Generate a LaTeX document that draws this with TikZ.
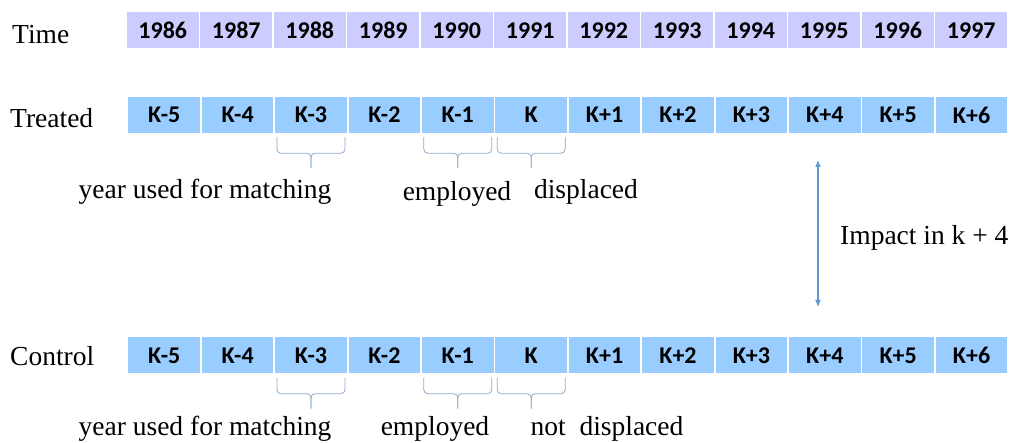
\documentclass[tikz,border=0pt]{standalone}
\usepackage{fontspec}
\setmainfont{Liberation Serif}
\newfontfamily\seriffont{Liberation Serif}
\newfontfamily\cellfont{Carlito}
\usetikzlibrary{calc,arrows.meta}
\definecolor{timefill}{HTML}{CCCCFF}
\definecolor{kfill}{HTML}{99CCFF}
\definecolor{bracecol}{HTML}{8FAACC}
\definecolor{arrowcol}{HTML}{5B9BD5}
\tikzset{
  cell/.style={inner sep=0pt, minimum width=71.6pt, minimum height=36pt, font=\cellfont\bfseries\fontsize{24}{26}\selectfont, text=black},
  timecell/.style={cell, fill=timefill},
  kcell/.style={cell, fill=kfill},
  rowlabel/.style={inner sep=0pt, anchor=west, font=\seriffont\fontsize{27.5}{30}\selectfont},
  lbl/.style={inner sep=0pt, font=\seriffont\fontsize{27.5}{30}\selectfont},
  bracket/.style={draw=bracecol, line width=0.8pt, rounded corners=4pt},
  impact/.style={draw=arrowcol, line width=1.2pt, {Latex[length=7pt,width=6pt]}-{Latex[length=7pt,width=6pt]}}
}
\newcommand{\kbracket}[2]{% node, name
  \coordinate (#2L) at ($(#1.south west)+(2,4)$);
  \coordinate (#2R) at ($(#1.south east)+(-2,4)$);
  \coordinate (#2M) at ($(#1.south)+(0,20)$);
  \coordinate (#2T) at ($(#1.south)+(0,35)$);
  \draw[bracket] (#2L) -- (#2L|-#2M) -- (#2M) -- (#2T);
  \draw[bracket] (#2R) -- (#2R|-#2M) -- (#2M) -- (#2T);
}
\begin{document}
\begin{tikzpicture}[x=1pt,y=-1pt]
\useasboundingbox (0,0) rectangle (1010,443);
% row labels
\node[rowlabel] (timelbl) at (12,35) {Time};
\node[rowlabel] (treatlbl) at (10,118) {Treated};
\node[rowlabel] (ctrllbl) at (10,356) {Control};
% time row
\foreach \yr [count=\i] in {1986,1987,1988,1989,1990,1991,1992,1993,1994,1995,1996,1997}{
  \node[timecell] (t\i) at ({126+73.5*(\i-0.5)},30.5) {\yr};
}
% treated and control rows
\foreach \k [count=\i] in {K-5,K-4,K-3,K-2,K-1,K,K+1,K+2,K+3,K+4,K+5,K+6}{
  \node[kcell] (a\i) at ({127.5+73.4*(\i-0.5)},115) {\k};
  \node[kcell] (c\i) at ({127.5+73.4*(\i-0.5)},355.5) {\k};
}
% brackets treated
\kbracket{a3}{ba3}
\kbracket{a5}{ba5}
\kbracket{a6}{ba6}
% brackets control
\kbracket{c3}{bc3}
\kbracket{c5}{bc5}
\kbracket{c6}{bc6}
% treated labels
\node[lbl] (match1) at (205,192) {year used for matching};
\node[lbl] (emp1) at (457,194) {employed};
\node[lbl] (disp1) at (586,192) {displaced};
% control labels
\node[lbl] (match2) at (205,429) {year used for matching};
\node[lbl] (emp2) at (435,429) {employed};
\node[lbl] (disp2) at (607,429) {not\ \ displaced};
% impact arrow
\coordinate (arrtop) at (818,160);
\coordinate (arrbot) at (818,307);
\draw[impact] (arrtop) -- (arrbot);
\node[lbl, anchor=west] (imp) at (840,238) {Impact in k + 4};
\end{tikzpicture}
\end{document}
